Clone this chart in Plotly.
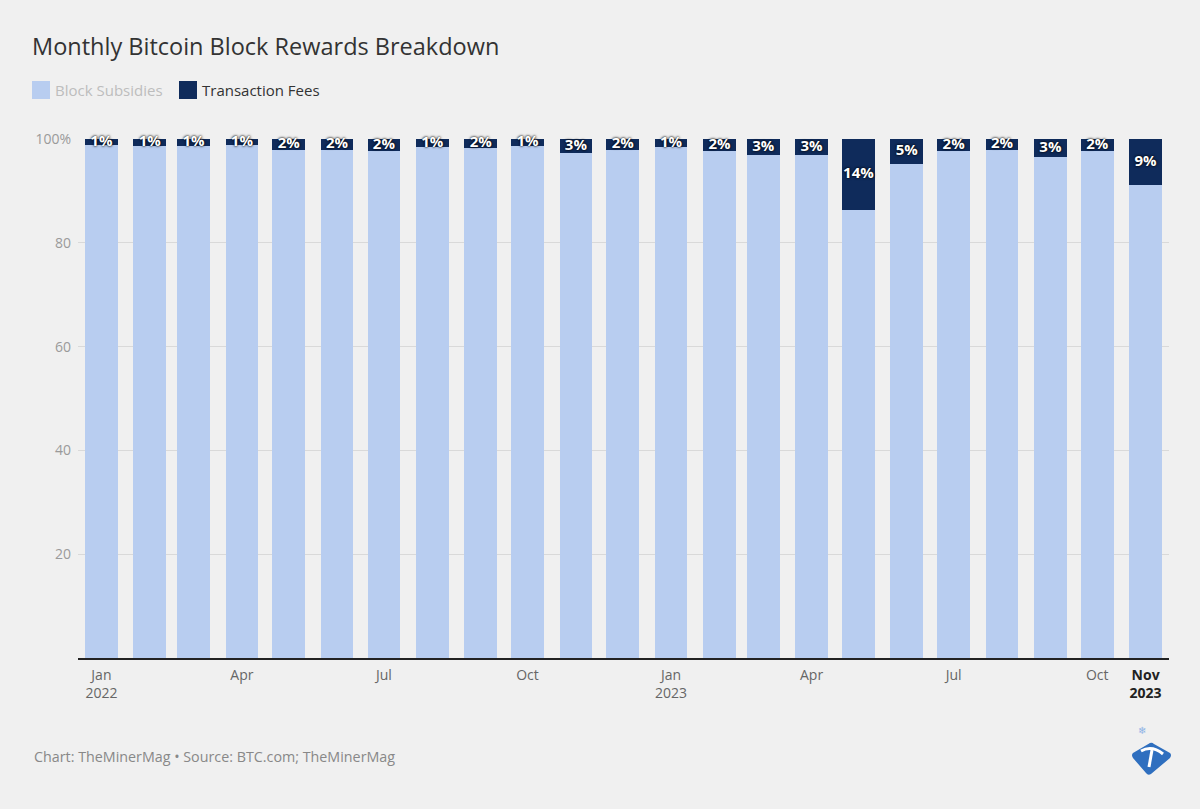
import plotly.graph_objects as go

months = ["2022-01-01", "2022-02-01", "2022-03-01", "2022-04-01", "2022-05-01", "2022-06-01",
          "2022-07-01", "2022-08-01", "2022-09-01", "2022-10-01", "2022-11-01", "2022-12-01",
          "2023-01-01", "2023-02-01", "2023-03-01", "2023-04-01", "2023-05-01", "2023-06-01",
          "2023-07-01", "2023-08-01", "2023-09-01", "2023-10-01", "2023-11-01"]
fees = [1.2, 1.3, 1.3, 1.2, 2.2, 2.2, 2.3, 1.5, 1.8, 1.3, 2.7, 2.1,
        1.5, 2.3, 3.1, 3.0, 13.7, 4.9, 2.3, 2.2, 3.4, 2.4, 8.8]
subsidies = [98.8, 98.7, 98.7, 98.8, 97.8, 97.8, 97.7, 98.5, 98.2, 98.7, 97.3, 97.9,
             98.5, 97.7, 96.9, 97.0, 86.3, 95.1, 97.7, 97.8, 96.6, 97.6, 91.2]
fee_labels = ["1%", "1%", "1%", "1%", "2%", "2%", "2%", "1%", "2%", "1%", "3%", "2%",
              "1%", "2%", "3%", "3%", "14%", "5%", "2%", "2%", "3%", "2%", "9%"]

tick_vals = ["2022-01-01", "2022-04-01", "2022-07-01", "2022-10-01",
             "2023-01-01", "2023-04-01", "2023-07-01", "2023-10-01", "2023-11-01"]
tick_text = ["Jan<br>2022", "Apr", "Jul", "Oct", "Jan<br>2023", "Apr", "Jul", "Oct",
             "<span style='color:#222222'><b>Nov<br>2023</b></span>"]

SUB_COLOR = "#b8cdf0"
FEE_COLOR = "#0f2b5b"
FONT = "Open Sans"

W, H = 1200, 809
L, R, T, B = 78, 1169, 139, 658

def px_x(p):
    return (p - L) / (R - L)

def px_y(p):
    return (B - p) / (B - T)

bar_w = 21 * 86400000

fig = go.Figure()
fig.add_trace(go.Bar(x=months, y=subsidies, marker=dict(color=SUB_COLOR, line=dict(width=0)),
                     width=bar_w, name="Block Subsidies", showlegend=False, hoverinfo="skip"))
fig.add_trace(go.Bar(x=months, y=fees, marker=dict(color=FEE_COLOR, line=dict(width=0)),
                     width=bar_w, name="Transaction Fees", showlegend=False, hoverinfo="skip"))

# labels
fig.add_trace(go.Scatter(
    x=months, y=[100 - f / 2 for f in fees], mode="text", text=fee_labels,
    textposition="middle center",
    textfont=dict(family=FONT, size=15, color="white", weight="bold",
                  shadow="0px 0px 2px rgba(0,0,0,0.9), 0px 0px 3px rgba(0,0,0,0.8)"),
    showlegend=False, hoverinfo="skip", cliponaxis=False))

fig.update_layout(
    width=W, height=H,
    barmode="stack",
    paper_bgcolor="#f0f0f0", plot_bgcolor="#f0f0f0",
    margin=dict(l=L, r=W - R, t=T, b=H - B),
    font=dict(family=FONT, size=14, color="#333333"),
    title=dict(text="Monthly Bitcoin Block Rewards Breakdown",
               font=dict(family=FONT, size=23.5, color="#333333"),
               x=32 / W, xref="container", xanchor="left",
               y=1 - 47 / H, yref="container", yanchor="middle"),
    showlegend=False,
    xaxis=dict(type="date", range=["2021-12-17", "2023-11-16"],
               tickvals=tick_vals, ticktext=tick_text,
               tickfont=dict(family=FONT, size=14, color="#666666"),
               showgrid=False, showline=True, linecolor="#222222", linewidth=1.5,
               ticks="", ticklabelstandoff=3, zeroline=False, fixedrange=True),
    yaxis=dict(range=[0, 100], tickvals=[20, 40, 60, 80, 100],
               ticktext=["20", "40", "60", "80", "100%"],
               tickfont=dict(family=FONT, size=14, color="#9a9a9a"),
               showgrid=True, gridcolor="#d9d9d9", gridwidth=1,
               zeroline=False, ticks="", ticklabelstandoff=6, fixedrange=True),
    hovermode=False,
)

# manual legend
legend_items = [(32, SUB_COLOR, "Block Subsidies", "#bdbdbd"),
                (179, FEE_COLOR, "Transaction Fees", "#333333")]
for x0, col, label, tcol in legend_items:
    fig.add_shape(type="rect", xref="paper", yref="paper",
                  x0=px_x(x0), x1=px_x(x0 + 18), y0=px_y(99), y1=px_y(81),
                  fillcolor=col, line=dict(width=0))
    fig.add_annotation(text=label, xref="paper", yref="paper", x=px_x(x0 + 21), y=px_y(90),
                       xanchor="left", yanchor="middle", showarrow=False,
                       font=dict(family=FONT, size=15, color=tcol))

fig.add_annotation(
    text="Chart: TheMinerMag • Source: BTC.com; TheMinerMag",
    xref="paper", yref="paper", x=px_x(32), y=px_y(756),
    xanchor="left", yanchor="middle", showarrow=False,
    font=dict(family=FONT, size=14.3, color="#888888"))

# logo
def pt(x, y):
    return f"{px_x(x):.5f},{px_y(y):.5f}"

diamond = f"M {pt(1150,743)} Q {pt(1152,742)} {pt(1154,744)} L {pt(1170,753)} Q {pt(1172,755)} {pt(1170,758)} " \
          f"L {pt(1151,774)} Q {pt(1148,776)} {pt(1146,773)} L {pt(1133,758)} Q {pt(1131,755)} {pt(1133,753)} Z"
fig.add_shape(type="path", xref="paper", yref="paper", path=diamond,
              fillcolor="#2f6fbf", line=dict(width=0), layer="above")
fig.add_shape(type="path", xref="paper", yref="paper",
              path=f"M {pt(1141,751)} Q {pt(1152,745)} {pt(1163,754)}",
              line=dict(color="white", width=3), layer="above")
fig.add_shape(type="line", xref="paper", yref="paper",
              x0=px_x(1152), y0=px_y(750), x1=px_x(1149), y1=px_y(767),
              line=dict(color="white", width=3), layer="above")
fig.add_annotation(text="❄", xref="paper", yref="paper", x=px_x(1148), y=px_y(739),
                   showarrow=False, font=dict(size=10, color="#8fb3e6"))

fig.write_html("out.html", config={"displayModeBar": False},
               post_script="document.body.style.margin='0';document.body.style.padding='0';")
